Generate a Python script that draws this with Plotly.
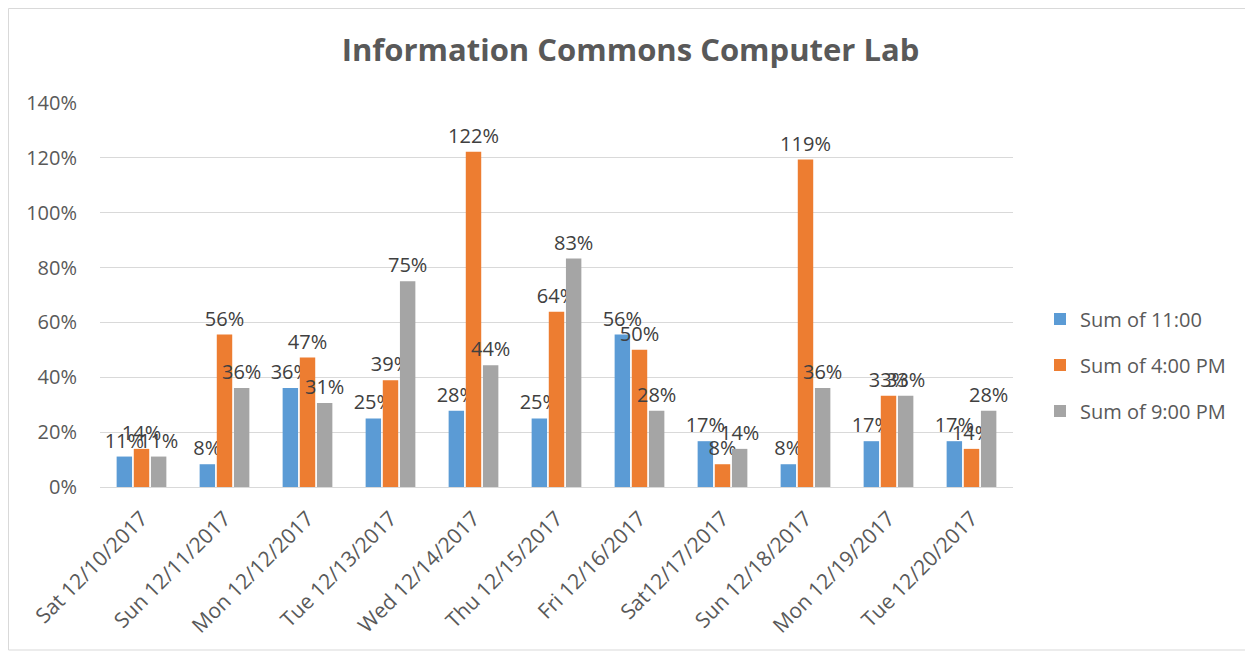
import plotly.graph_objects as go

categories = ["Sat 12/10/2017", "Sun 12/11/2017", "Mon 12/12/2017", "Tue 12/13/2017",
              "Wed 12/14/2017", "Thu 12/15/2017", "Fri 12/16/2017", "Sat12/17/2017",
              "Sun 12/18/2017", "Mon 12/19/2017", "Tue 12/20/2017"]
s_1100 = [0.111, 0.083, 0.361, 0.25, 0.278, 0.25, 0.556, 0.167, 0.083, 0.167, 0.167]
s_1600 = [0.139, 0.556, 0.472, 0.389, 1.222, 0.639, 0.50, 0.083, 1.194, 0.333, 0.139]
s_2100 = [0.111, 0.361, 0.306, 0.75, 0.444, 0.833, 0.278, 0.139, 0.361, 0.333, 0.278]
series_names = ["Sum of 11:00", "Sum of 4:00 PM", "Sum of 9:00 PM"]
colors = ["#5b9bd5", "#ed7d31", "#a5a5a5"]
y_ticks = [0, 0.2, 0.4, 0.6, 0.8, 1.0, 1.2, 1.4]

FONT = "Open Sans"
W, H = 1245, 647
L, R, T, B = 92, 240, 95, 168
PW, PH = W - L - R, H - T - B

fig = go.Figure()
for i, (name, vals) in enumerate(zip(series_names, [s_1100, s_1600, s_2100])):
    fig.add_trace(go.Bar(
        x=categories, y=vals, name=name, marker_color=colors[i],
        marker_line_width=0,
        text=[f"{round(v*100):d}%" for v in vals],
        textposition="outside", constraintext="none",
        textfont=dict(family=FONT, size=20, color="#404040"),
        cliponaxis=False, legendgroup=name,
    ))

fig.update_layout(
    width=W, height=H,
    paper_bgcolor="white", plot_bgcolor="white",
    margin=dict(l=L, r=R, t=T, b=B, autoexpand=False),
    barmode="group", bargap=0.38, bargroupgap=0.1,
    title=dict(text="<b>Information Commons Computer Lab</b>", x=0.5, xref="container",
               xanchor="center", y=1 - 42/H, yanchor="middle",
               font=dict(family=FONT, size=31, color="#595959")),
    legend=dict(x=(1040 - 8 - L)/PW, y=(479 - 357)/PH, yanchor="middle", xanchor="left",
                font=dict(family=FONT, size=20, color="#595959"),
                tracegroupgap=17, traceorder="grouped", itemwidth=30),
)
fig.update_yaxes(range=[0, 1.4], tickvals=y_ticks, tickformat=".0%",
                 showgrid=True, gridcolor="#d9d9d9", gridwidth=1,
                 zeroline=False, showline=False,
                 ticks="outside", ticklen=18, tickcolor="rgba(0,0,0,0)",
                 tickfont=dict(family=FONT, size=20, color="#595959"))
fig.update_xaxes(tickangle=-45, showline=True, linecolor="#d9d9d9", linewidth=1,
                 ticks="outside", ticklen=10, tickcolor="rgba(0,0,0,0)",
                 tickfont=dict(family=FONT, size=21, color="#595959"))
fig.add_shape(type="rect", xref="paper", yref="paper",
              x0=(0.5 - L)/PW, x1=(1239 - L)/PW,
              y0=-(642 - 479)/PH, y1=1 + (95 - 0.5)/PH,
              line=dict(color="#d9d9d9", width=1), fillcolor="rgba(0,0,0,0)", layer="below")
fig.write_html("out.html")
